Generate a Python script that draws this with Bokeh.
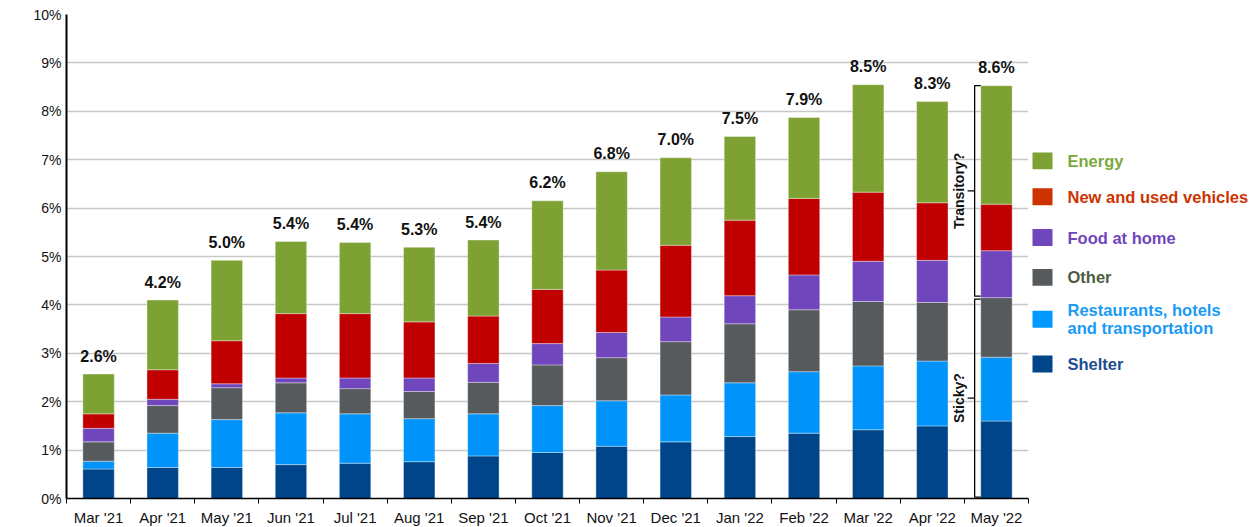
import numpy as np
from bokeh.plotting import figure
from bokeh.models import Range1d, FixedTicker, PrintfTickFormatter, ColumnDataSource
from bokeh.layouts import row
from bokeh.embed import file_html
from bokeh.resources import INLINE
from bokeh.core.properties import value

# ---------------- data ----------------
months = ["Mar '21", "Apr '21", "May '21", "Jun '21", "Jul '21", "Aug '21", "Sep '21",
          "Oct '21", "Nov '21", "Dec '21", "Jan '22", "Feb '22", "Mar '22", "Apr '22", "May '22"]
shelter     = [0.61, 0.64, 0.64, 0.70, 0.73, 0.76, 0.88, 0.95, 1.08, 1.17, 1.28, 1.35, 1.42, 1.50, 1.60]
restaurants = [0.16, 0.71, 0.99, 1.07, 1.02, 0.89, 0.87, 0.97, 0.94, 0.97, 1.11, 1.27, 1.32, 1.34, 1.32]
other       = [0.40, 0.57, 0.66, 0.62, 0.52, 0.56, 0.65, 0.84, 0.89, 1.10, 1.22, 1.28, 1.33, 1.21, 1.23]
food        = [0.28, 0.13, 0.08, 0.10, 0.22, 0.28, 0.39, 0.44, 0.52, 0.51, 0.58, 0.72, 0.83, 0.87, 0.97]
vehicles    = [0.30, 0.61, 0.89, 1.33, 1.33, 1.16, 0.98, 1.12, 1.29, 1.48, 1.56, 1.58, 1.43, 1.19, 0.96]
energy      = [0.82, 1.44, 1.66, 1.49, 1.47, 1.54, 1.57, 1.83, 2.03, 1.81, 1.73, 1.67, 2.22, 2.09, 2.45]
total_labels = ["2.6%", "4.2%", "5.0%", "5.4%", "5.4%", "5.3%", "5.4%", "6.2%", "6.8%",
                "7.0%", "7.5%", "7.9%", "8.5%", "8.3%", "8.6%"]
y_ticks = [0, 1, 2, 3, 4, 5, 6, 7, 8, 9, 10]

series_keys = ["shelter", "restaurants", "other", "food", "vehicles", "energy"]
series_names = ["Shelter", "Restaurants, hotels\nand transportation", "Other",
                "Food  at home", "New and used vehicles", "Energy"]
bar_colors = ["#004589", "#0094FA", "#575A5D", "#7046BC", "#C00000", "#7DA233"]
legend_box_colors = ["#004589", "#0099FF", "#575A5D", "#7046BC", "#CC3300", "#7DA233"]
legend_text_colors = ["#1D4E8F", "#1A9AF5", "#4F5B3E", "#7046BC", "#CC3300", "#7DA83A"]
bracket_names = ["Transitory?", "Sticky?"]

FONT = value("Liberation Sans")

# ---------------- main chart ----------------
n = len(months)
xc = np.arange(n) + 0.5
data = dict(x=xc, shelter=shelter, restaurants=restaurants, other=other,
            food=food, vehicles=vehicles, energy=energy)
src = ColumnDataSource(data)

FT, FH = 14, 484  # frame top / height (px)
p = figure(output_backend="svg", toolbar_location=None,
           frame_width=962, frame_height=FH,
           min_border_left=66, min_border_right=2, min_border_top=FT, min_border_bottom=28,
           x_range=Range1d(0, n), y_range=Range1d(0, 10))
p.outline_line_color = None
p.background_fill_color = "white"

p.vbar_stack(series_keys, x="x", width=0.49, color=bar_colors, source=src,
             line_color="white", line_alpha=0.45, line_width=0.8)

totals = np.sum([shelter, restaurants, other, food, vehicles, energy], axis=0)
lab_src = ColumnDataSource(dict(x=xc, y=totals, t=total_labels))
p.text(x="x", y="y", text="t", source=lab_src, text_align="center", text_baseline="middle",
       y_offset=-18, text_font=FONT, text_font_style="bold", text_font_size="16px",
       text_color="#111111")

# bracket annotations for the last month
last = xc[-1]
top = totals[-1]
sticky_top = shelter[-1] + restaurants[-1] + other[-1]
bx = last - 0.34
hx = last - 0.245
for (y_hi, y_lo), name in zip([(top, sticky_top + 0.03), (sticky_top - 0.03, 0.03)], bracket_names):
    p.line(x=[hx, bx, bx, hx], y=[y_hi, y_hi, y_lo, y_lo], line_color="black", line_width=1.3)
    mid = (y_hi + y_lo) / 2
    p.segment(x0=[bx - 0.11], y0=[mid], x1=[bx], y1=[mid], line_color="black", line_width=1.3)
    p.text(x=[last - 0.59], y=[mid], text=[name], angle=np.pi / 2, text_align="center",
           text_baseline="middle", text_font=FONT, text_font_style="bold",
           text_font_size="14px", text_color="#111111")

# axes
p.yaxis.ticker = FixedTicker(ticks=y_ticks)
p.yaxis.formatter = PrintfTickFormatter(format="%d%%")
p.yaxis.major_tick_out = 0
p.yaxis.major_tick_in = 0
p.yaxis.minor_tick_out = 0
p.yaxis.minor_tick_in = 0
p.yaxis.axis_line_color = "black"
p.yaxis.axis_line_width = 2
p.yaxis.major_label_standoff = 5
p.yaxis.major_label_text_font = "Liberation Sans"
p.yaxis.major_label_text_font_size = "14px"
p.yaxis.major_label_text_color = "#111111"

p.xaxis.ticker = FixedTicker(ticks=list(xc), minor_ticks=list(range(n + 1)))
p.xaxis.major_label_overrides = {float(c): m for c, m in zip(xc, months)}
p.xaxis.major_tick_out = 0
p.xaxis.major_tick_in = 0
p.xaxis.minor_tick_out = 5
p.xaxis.minor_tick_in = 0
p.xaxis.minor_tick_line_color = "black"
p.xaxis.axis_line_color = "black"
p.xaxis.axis_line_width = 1.5
p.xaxis.major_label_standoff = 5
p.xaxis.major_label_text_font = "Liberation Sans"
p.xaxis.major_label_text_font_size = "15px"
p.xaxis.major_label_text_color = "#111111"

p.xgrid.visible = False
p.ygrid.ticker = FixedTicker(ticks=y_ticks)
p.ygrid.grid_line_color = "#C8C8C8"
p.ygrid.grid_line_width = 1.5

# ---------------- legend panel ----------------
# (its frame is aligned with the main chart's frame, so map y to page pixels)
LW, LH = 228, 526
lg = figure(output_backend="svg", toolbar_location=None, width=LW, height=LH,
            x_range=Range1d(0, LW), y_range=Range1d(FT + FH, FT),
            min_border=0, min_border_left=0, min_border_right=0,
            min_border_top=0, min_border_bottom=0)
lg.axis.visible = False
lg.grid.visible = False
lg.outline_line_color = None

# legend rows (top to bottom), vertical centres in page pixels
order = [5, 4, 3, 2, 1, 0]
row_y = [161, 197, 238, 278, 320, 365]
leg_src = ColumnDataSource(dict(
    y=row_y,
    name=[series_names[i] for i in order],
    box=[legend_box_colors[i] for i in order],
    tc=[legend_text_colors[i] for i in order],
))
lg.rect(x=12, y="y", width=20, height=17, fill_color="box", line_color=None, source=leg_src)
lg.text(x=37, y="y", text="name", text_color="tc", source=leg_src, text_align="left",
        text_baseline="middle", text_font=FONT, text_font_style="bold",
        text_font_size="16.5px", text_line_height=1.0)

layout = row(p, lg)
open("out.html", "w").write(file_html(layout, INLINE))
